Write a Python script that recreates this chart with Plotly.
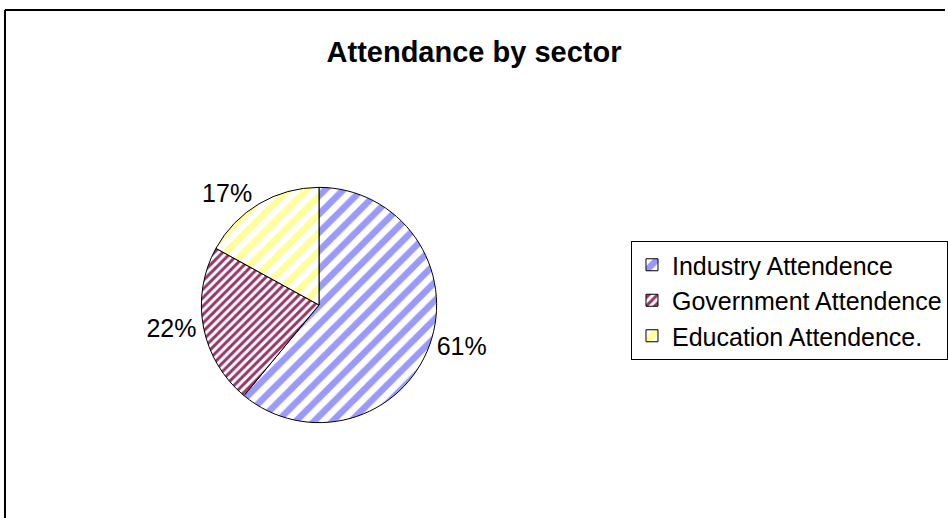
import plotly.graph_objects as go

W, H = 948, 518

labels = ["Industry Attendence", "Government Attendence", "Education Attendence."]
values = [61, 22, 17]
stripe_colors = ["#9999FF", "#993366", "#FFFF99"]
stripe_sizes = [13, 6, 13]
title_text = "Attendance by sector"

fig = go.Figure()
fig.add_trace(go.Pie(
    labels=labels,
    values=values,
    sort=False,
    direction="clockwise",
    rotation=0,
    textposition="outside",
    texttemplate="%{percent:.0%}",
    outsidetextfont=dict(family="Liberation Sans, Arial", size=25, color="#000000"),
    marker=dict(
        colors=["#FFFFFF"] * 3,
        line=dict(color="#000000", width=1),
        pattern=dict(
            shape=["/", "/", "/"],
            fgcolor=stripe_colors,
            bgcolor=["#FFFFFF"] * 3,
            size=stripe_sizes,
            solidity=[0.5, 0.5, 0.5],
            fgopacity=1,
            fillmode="replace",
        ),
    ),
    domain=dict(x=[202 / W, 438 / W], y=[(H - 423) / H, (H - 187) / H]),
    hoverinfo="label+percent",
))

fig.update_layout(
    width=W,
    height=H,
    margin=dict(l=0, r=0, t=0, b=0),
    paper_bgcolor="#FFFFFF",
    plot_bgcolor="#FFFFFF",
    title=dict(
        text="<b>" + title_text + "</b>",
        x=474 / W,
        xanchor="center",
        y=1 - 52 / H,
        yanchor="middle",
        font=dict(family="Liberation Sans, Arial", size=29, color="#000000"),
    ),
    legend=dict(
        x=633 / W,
        y=1 - 241 / H,
        xanchor="left",
        yanchor="top",
        bordercolor="#000000",
        borderwidth=1,
        bgcolor="#FFFFFF",
        font=dict(family="Liberation Sans, Arial", size=25, color="#000000"),
    ),
    showlegend=True,
    shapes=[
        dict(type="line", xref="paper", yref="paper",
             x0=5 / W, x1=5 / W, y0=0, y1=1 - 10 / H,
             line=dict(color="#000000", width=2)),
        dict(type="line", xref="paper", yref="paper",
             x0=5 / W, x1=1, y0=1 - 10 / H, y1=1 - 10 / H,
             line=dict(color="#000000", width=2)),
    ],
)

fig.write_html("out.html")
